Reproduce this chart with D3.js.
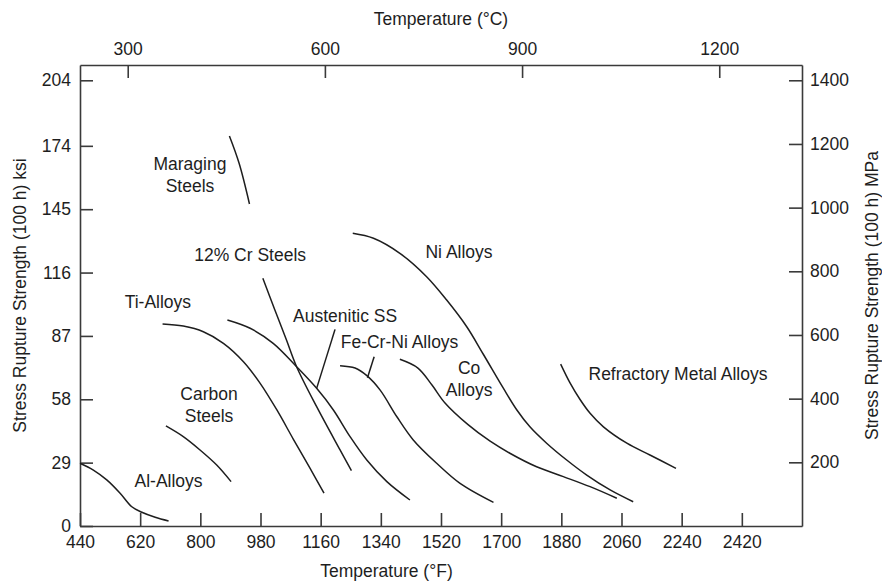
<!DOCTYPE html>
<html>
<head>
<meta charset="utf-8">
<script src="https://cdn.jsdelivr.net/npm/d3@7"></script>
<style>
  html, body { margin: 0; padding: 0; background: #fff; }
  svg { display: block; }
  text { font-family: "Liberation Sans", Arial, Helvetica, sans-serif; fill: #1e1e1e; }
</style>
</head>
<body>
<svg id="chart" width="882" height="583"></svg>
<script>
// ---------- tick values ----------
const fTicks = [440, 620, 800, 980, 1160, 1340, 1520, 1700, 1880, 2060, 2240, 2420];
const cTicks = [300, 600, 900, 1200];
const ksiTicks = [0, 29, 58, 87, 116, 145, 174, 204];
const mpaTicks = [200, 400, 600, 800, 1000, 1200, 1400];

// ---------- series (temperature °F, stress ksi) ----------
const alAlloysF   = [440, 480, 520, 560, 595, 625, 665, 705];
const alAlloysKsi = [28.7, 25.6, 21.1, 15.0, 8.8, 6.3, 4.0, 2.3];

const carbonF   = [697, 749, 799, 849, 892];
const carbonKsi = [45.8, 40.9, 34.8, 27.9, 20.3];

const tiF   = [687, 749, 809, 869, 929, 979, 1029, 1078, 1128, 1170];
const tiKsi = [92.5, 91.5, 88.9, 83.6, 75.2, 65.3, 53.1, 39.8, 26.5, 15.0];

const maragingF   = [887, 916, 947];
const maragingKsi = [178.5, 166.0, 147.4];

const crSteelF   = [987, 1023, 1058, 1088, 1148, 1218, 1252];
const crSteelKsi = [113.4, 98.9, 85.0, 72.9, 54.6, 34.8, 25.3];

const austeniticF   = [881, 949, 1018, 1088, 1148, 1198, 1248, 1298, 1358, 1427];
const austeniticKsi = [94.3, 90.5, 83.6, 72.9, 63.0, 53.1, 40.9, 30.2, 20.3, 11.9];

const feCrNiF   = [1218, 1263, 1299, 1338, 1388, 1437, 1507, 1577, 1677];
const feCrNiKsi = [73.4, 72.3, 68.7, 62.2, 50.0, 39.4, 28.7, 19.5, 10.8];

const coF   = [1397, 1451, 1493, 1532, 1600, 1667, 1726, 1806, 1886, 1966, 2046];
const coKsi = [76.3, 72.3, 64.5, 56.3, 46.5, 38.8, 33.3, 27.1, 22.6, 18.0, 12.7];

const niF   = [1256, 1318, 1397, 1477, 1537, 1597, 1647, 1706, 1747, 1786, 1836, 1896, 1956, 2026, 2095];
const niKsi = [134.0, 131.7, 124.8, 114.1, 103.4, 91.2, 78.5, 63.2, 53.1, 45.4, 37.9, 30.2, 23.3, 16.5, 11.1];

const refractoryF   = [1878, 1906, 1936, 1966, 2006, 2076, 2145, 2223];
const refractoryKsi = [74.1, 65.5, 57.9, 51.6, 45.4, 37.9, 32.5, 26.4];

// leader lines (°F, ksi) pairs: from label to curve
const austeniticLeaderF   = [1203, 1148];
const austeniticLeaderKsi = [90.0, 63.0];
const feCrNiLeaderF   = [1320, 1300];
const feCrNiLeaderKsi = [77.5, 67.9];

// labels: text lines and anchor (°F, ksi of first baseline)
const labelLines = [["Maraging", "Steels"], ["12% Cr Steels"], ["Ni Alloys"], ["Ti-Alloys"],
  ["Austenitic SS"], ["Fe-Cr-Ni Alloys"], ["Carbon", "Steels"], ["Al-Alloys"], ["Co", "Alloys"],
  ["Refractory Metal Alloys"]];
const labelF   = [769, 949, 1574, 673, 1233, 1396, 826, 705, 1604, 2229];
const labelKsi = [162.9, 121.4, 122.7, 99.8, 93.4, 81.5, 57.7, 18.0, 69.6, 66.8];

// ---------- layout ----------
const mLeft = 80, mRight = 802, mTop = 65, mBottom = 526;
const svg = d3.select("#chart");

const x  = d3.scaleLinear().domain([440, 2600]).range([mLeft, mRight]);
const xc = d3.scaleLinear().domain([227.4, 1325.9]).range([mLeft, mRight]);
const y  = d3.scaleLinear().domain([0, 211]).range([mBottom, mTop]);
const ym = d3.scaleLinear().domain([0, 1448]).range([mBottom, mTop]);

const fontSize = "17.5px";
const axisColor = "#3a3a3a";

function styleAxis(g) {
  g.selectAll("path.domain").attr("stroke", axisColor).attr("stroke-width", 1.6);
  g.selectAll(".tick line").attr("stroke", axisColor).attr("stroke-width", 1.6);
  g.selectAll(".tick text").attr("fill", "#1e1e1e").style("font-size", fontSize)
    .style("font-family", '"Liberation Sans", Arial, Helvetica, sans-serif');
}

svg.append("g").attr("transform", `translate(0,${mBottom})`)
  .call(d3.axisBottom(x).tickValues(fTicks).tickSize(-13).tickSizeOuter(0).tickPadding(10).tickFormat(d3.format("d")))
  .call(styleAxis);

svg.append("g").attr("transform", `translate(0,${mTop})`)
  .call(d3.axisTop(xc).tickValues(cTicks).tickSize(-13).tickSizeOuter(0).tickPadding(10).tickFormat(d3.format("d")))
  .call(styleAxis);

svg.append("g").attr("transform", `translate(${mLeft},0)`)
  .call(d3.axisLeft(y).tickValues(ksiTicks).tickSize(-13).tickSizeOuter(0).tickPadding(9).tickFormat(d3.format("d")))
  .call(styleAxis);

svg.append("g").attr("transform", `translate(${mRight},0)`)
  .call(d3.axisRight(ym).tickValues(mpaTicks).tickSize(-13).tickSizeOuter(0).tickPadding(8).tickFormat(d3.format("d")))
  .call(styleAxis);

// axis titles
svg.append("text").attr("x", (mLeft + mRight) / 2).attr("y", 25).attr("text-anchor", "middle")
  .style("font-size", fontSize).text("Temperature (°C)");
svg.append("text").attr("x", 386.5).attr("y", 577).attr("text-anchor", "middle")
  .style("font-size", fontSize).text("Temperature (°F)");
svg.append("text").attr("transform", `translate(26,${(mTop + mBottom) / 2}) rotate(-90)`).attr("text-anchor", "middle")
  .style("font-size", fontSize).text("Stress Rupture Strength (100 h) ksi");
svg.append("text").attr("transform", `translate(878,${(mTop + mBottom) / 2}) rotate(-90)`).attr("text-anchor", "middle")
  .style("font-size", fontSize).text("Stress Rupture Strength (100 h) MPa");

// curves
const seriesList = [
  [alAlloysF, alAlloysKsi], [carbonF, carbonKsi], [tiF, tiKsi], [maragingF, maragingKsi],
  [crSteelF, crSteelKsi], [austeniticF, austeniticKsi], [feCrNiF, feCrNiKsi], [coF, coKsi],
  [niF, niKsi], [refractoryF, refractoryKsi]
];
const line = d3.line().x(d => x(d[0])).y(d => y(d[1])).curve(d3.curveCatmullRom.alpha(0.5));
svg.append("g").selectAll("path").data(seriesList).join("path")
  .attr("d", s => line(s[0].map((f, i) => [f, s[1][i]])))
  .attr("fill", "none").attr("stroke", "#1e1e1e").attr("stroke-width", 1.5);

// leaders
const straight = d3.line().x(d => x(d[0])).y(d => y(d[1]));
[[austeniticLeaderF, austeniticLeaderKsi], [feCrNiLeaderF, feCrNiLeaderKsi]].forEach(s => {
  svg.append("path").attr("d", straight(s[0].map((f, i) => [f, s[1][i]])))
    .attr("fill", "none").attr("stroke", "#1e1e1e").attr("stroke-width", 1.5);
});

// labels
labelLines.forEach((lines, i) => {
  const t = svg.append("text").attr("text-anchor", "middle").style("font-size", fontSize)
    .attr("x", x(labelF[i])).attr("y", y(labelKsi[i]));
  lines.forEach((ln, j) => {
    t.append("tspan").attr("x", x(labelF[i])).attr("dy", j === 0 ? 0 : "1.25em").text(ln);
  });
});
</script>
</body>
</html>
